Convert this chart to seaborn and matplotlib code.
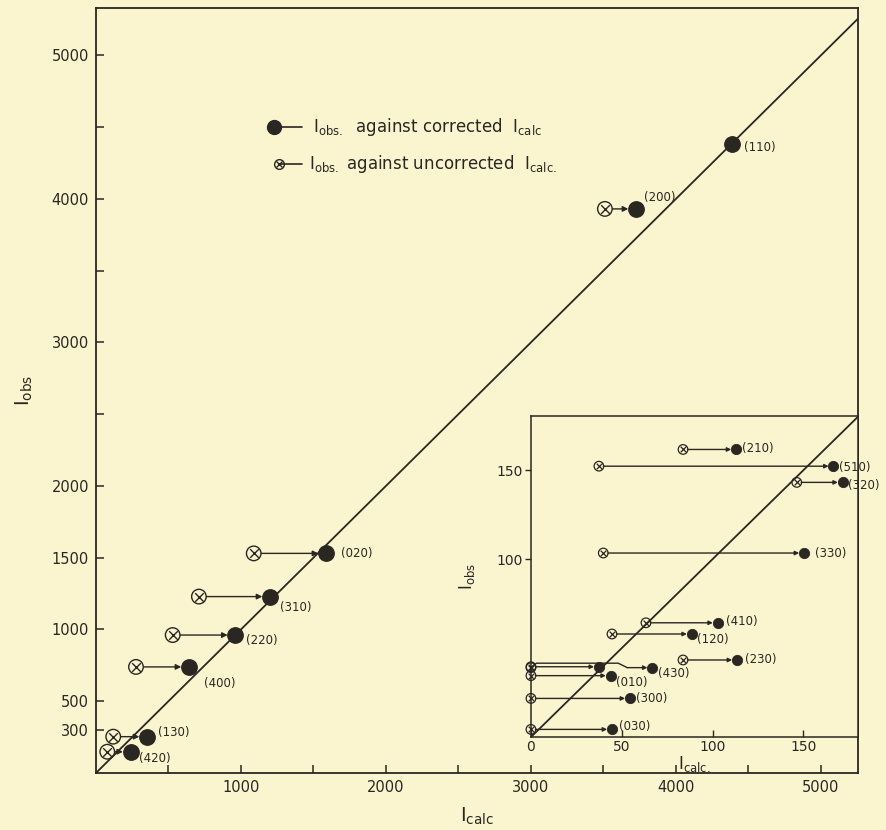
import numpy as np
import pandas as pd
import matplotlib.pyplot as plt
import seaborn as sns

# main plot: I_obs against I_calc (corrected and uncorrected)
main_labels = ["(110)", "(200)", "(020)", "(310)", "(220)", "(400)", "(130)", "(420)"]
main_obs = [4380, 3930, 1530, 1229, 961, 739, 253, 148]
main_corr = [4390, 3724, 1586, 1200, 961, 641, 352, 239]
main_uncorr = [np.nan, 3510, 1088, 710, 529, 276, 119, 78]

# inset: weak reflections
ins_labels = ["(210)", "(510)", "(320)", "(330)", "(410)", "(120)", "(230)",
              "(430)", "", "(010)", "(300)", "(030)"]
ins_obs = [161.6, 152.2, 143.1, 103.4, 64.2, 57.9, 43.3, 39.0, 39.5, 34.5, 21.7, 4.3]
ins_corr = [112.9, 166.5, 171.6, 150.3, 102.8, 88.5, 113.4, 66.8, 37.4, 43.9, 54.5, 44.6]
ins_uncorr = [83.7, 37.4, 146.3, 39.8, 63.3, 44.6, 83.7, 0.0, 0.0, 0.0, 0.0, 0.0]

main_yticks = [300, 500, 1000, 1500, 2000, 3000, 4000, 5000]
main_xticks = [1000, 2000, 3000, 4000, 5000]
ins_xticks = [0, 50, 100, 150]
ins_yticks = [100, 150]

BG = "#FBF5CF"
INK = "#2a2622"

sns.set_theme(style="white")
plt.rcParams["font.family"] = ["DejaVu Sans"]
plt.rcParams["mathtext.default"] = "regular"

main_df = pd.DataFrame({"label": main_labels, "obs": main_obs,
                        "corr": main_corr, "uncorr": main_uncorr})
ins_df = pd.DataFrame({"label": ins_labels, "obs": ins_obs,
                       "corr": ins_corr, "uncorr": ins_uncorr})

fig = plt.figure(figsize=(8.87, 8.30), dpi=100, facecolor=BG)
ax = fig.add_axes([0.1082, 0.0687, 0.859, 0.9217])
ax.set_facecolor(BG)


def otimes(axis, df, size, lw):
    # circle with a cross = uncorrected I_calc
    a = sns.scatterplot(data=df, x="uncorr", y="obs", ax=axis, marker="o", s=size,
                        facecolor="none", edgecolor=INK, linewidth=lw, zorder=4)
    sns.scatterplot(data=df, x="uncorr", y="obs", ax=axis, marker="x",
                    s=size * 0.35, color=INK, linewidth=lw, zorder=4)
    for c in a.collections[-2:]:
        c.set_clip_on(False)


def arrows(axis, df, shrink_a, shrink_b, head, skip=()):
    for i, r in df.iterrows():
        if np.isnan(r["uncorr"]) or i in skip:
            continue
        axis.annotate("", xy=(r["corr"], r["obs"]), xytext=(r["uncorr"], r["obs"]),
                      arrowprops=dict(arrowstyle="-|>", color=INK, lw=1.0,
                                      shrinkA=shrink_a, shrinkB=shrink_b,
                                      mutation_scale=head), zorder=3)


# main axes
diag = np.array([0, 5400])
ax.plot(diag, diag, color=INK, lw=1.3, zorder=2)
arrows(ax, main_df, 5.5, 5.5, 8)
otimes(ax, main_df.dropna(), 110, 1.0)
sns.scatterplot(data=main_df, x="corr", y="obs", ax=ax, color=INK, s=125,
                edgecolor=INK, zorder=5)

main_offsets = {"(110)": (8, -2), "(200)": (6, 8), "(020)": (11, 0), "(310)": (7, -8),
                "(220)": (8, -4), "(400)": (11, -12), "(130)": (8, 3), "(420)": (6, -5)}
for _, r in main_df.iterrows():
    ax.annotate(r["label"], (r["corr"], r["obs"]), xytext=main_offsets[r["label"]],
                textcoords="offset points", ha="left", va="center",
                fontsize=8.5, color=INK)

ax.set_xlim(0, 5255)
ax.set_ylim(0, 5330)
ax.set_xticks(main_xticks)
ax.set_xticks(np.arange(500, 5255, 500), minor=True)
ax.set_yticks(main_yticks)
ax.set_yticks([2500, 3500, 4500], minor=True)
ax.tick_params(which="both", direction="in", length=6, width=1.1, colors=INK,
               labelsize=10.5, pad=5, bottom=True, left=True)
for s in ax.spines.values():
    s.set_color(INK)
    s.set_linewidth(1.3)
ax.set_xlabel(r"I$_{calc}$", fontsize=14, color=INK, labelpad=8)
ax.set_ylabel(r"I$_{obs}$", fontsize=14, color=INK, labelpad=12)

# legend drawn by hand
ax.plot([0.234, 0.27], [0.845, 0.845], transform=ax.transAxes, color=INK, lw=1.2)
ax.plot([0.234], [0.845], transform=ax.transAxes, marker="o", ms=10, color=INK)
ax.text(0.285, 0.845, r"I$_{obs.}$  against corrected  I$_{calc}$",
        transform=ax.transAxes, fontsize=12, color=INK, va="center")
ax.plot([0.24, 0.27], [0.796, 0.796], transform=ax.transAxes, color=INK, lw=1.2)
ax.plot([0.24], [0.796], transform=ax.transAxes, marker="o", ms=7,
        mfc="none", mec=INK, mew=1.0)
ax.plot([0.24], [0.796], transform=ax.transAxes, marker="x", ms=4, color=INK, mew=1.0)
ax.text(0.28, 0.796, r"I$_{obs.}$ against uncorrected  I$_{calc.}$",
        transform=ax.transAxes, fontsize=12, color=INK, va="center")

# inset axes
ins = fig.add_axes([0.5986, 0.112, 0.3687, 0.387])
ins.set_facecolor(BG)
ins.plot([0, 185], [0, 185], color=INK, lw=1.3, zorder=2)

# (430) connector bends over the unlabeled point
k = ins_labels.index("(430)")
x0, y0, x1 = ins_uncorr[k], ins_obs[k], ins_corr[k]
ins.plot([x0, x0 + 3, x0 + 48, x0 + 53], [y0, y0 + 2.5, y0 + 2.5, y0],
         color=INK, lw=1.0, zorder=3)
ins.annotate("", xy=(x1, y0), xytext=(x0 + 53, y0),
             arrowprops=dict(arrowstyle="-|>", color=INK, lw=1.0, shrinkA=0,
                             shrinkB=3.5, mutation_scale=6), zorder=3)
arrows(ins, ins_df, 3.2, 3.5, 6, skip=(k,))
otimes(ins, ins_df, 48, 0.9)
sns.scatterplot(data=ins_df, x="corr", y="obs", ax=ins, color=INK, s=55,
                edgecolor=INK, zorder=5)

ins_offsets = {"(210)": (4, 1), "(510)": (4, -1), "(320)": (4, -2), "(330)": (8, 0),
               "(410)": (6, 1), "(120)": (4, -4), "(230)": (6, 0), "(430)": (4, -4),
               "(010)": (4, -5), "(300)": (4, 0), "(030)": (5, 2)}
for _, r in ins_df.iterrows():
    if r["label"]:
        ins.annotate(r["label"], (r["corr"], r["obs"]),
                     xytext=ins_offsets[r["label"]], textcoords="offset points",
                     ha="left", va="center", fontsize=8.5, color=INK)

ins.set_xlim(0, 180)
ins.set_ylim(0, 180.5)
ins.set_xticks(ins_xticks)
ins.set_yticks(ins_yticks)
ins.tick_params(axis="x", direction="in", length=5, width=1.0, colors=INK,
                labelsize=10, pad=2, bottom=True)
ins.tick_params(axis="y", direction="out", length=4, width=1.0, colors=INK,
                labelsize=10, pad=2, left=True)
for s in ins.spines.values():
    s.set_color(INK)
    s.set_linewidth(1.1)
ins.set_xlabel(r"I$_{calc.}$", fontsize=12, color=INK, labelpad=0)
ins.set_ylabel(r"I$_{obs}$", fontsize=12, color=INK, labelpad=14)

fig.savefig("out.png", dpi=100, facecolor=BG)
